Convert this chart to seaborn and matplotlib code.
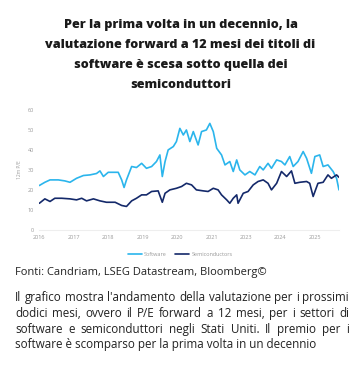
import numpy as np
import pandas as pd
import matplotlib
matplotlib.use("Agg")
import matplotlib.pyplot as plt
import seaborn as sns

# positions along the time axis (one unit per labelled tick, first tick = 2016)
sw_x = [0, 0.16, 0.31, 0.55, 0.74, 0.89, 1.08, 1.28, 1.47, 1.66, 1.76, 1.86, 2.00, 2.15,
        2.29, 2.39, 2.46, 2.53, 2.68, 2.82, 2.97, 3.11, 3.26, 3.40, 3.50, 3.57, 3.65, 3.74,
        3.89, 3.98, 4.08, 4.18, 4.27, 4.37, 4.47, 4.61, 4.71, 4.85, 4.95, 5.05, 5.15, 5.29,
        5.39, 5.53, 5.63, 5.73, 5.82, 5.97, 6.11, 6.26, 6.40, 6.50, 6.64, 6.74, 6.89, 7.03,
        7.13, 7.27, 7.37, 7.51, 7.66, 7.76, 7.90, 8.00, 8.14, 8.24, 8.38, 8.53, 8.63, 8.70]
software = [22.2, 23.8, 25.0, 25.0, 24.5, 23.8, 25.8, 27.2, 27.5, 28.2, 29.5, 26.7, 28.8, 28.8,
            28.8, 25.0, 21.2, 25.0, 31.7, 31.2, 33.3, 30.8, 31.7, 34.2, 37.5, 26.7, 34.2, 40.0,
            41.7, 44.2, 50.8, 47.5, 50.0, 44.2, 49.2, 42.5, 49.2, 50.0, 53.3, 49.2, 40.8, 37.5,
            32.5, 34.2, 29.2, 35.0, 30.0, 27.5, 29.2, 27.5, 31.7, 30.0, 33.3, 30.8, 35.0, 34.2,
            32.5, 36.7, 31.7, 34.2, 39.2, 35.8, 28.3, 36.7, 37.5, 31.7, 32.5, 29.2, 25.8, 20.0]

semi_x = [0, 0.16, 0.31, 0.45, 0.65, 0.89, 1.08, 1.23, 1.37, 1.57, 1.76, 1.95, 2.20, 2.39,
          2.53, 2.68, 2.82, 2.97, 3.11, 3.26, 3.45, 3.57, 3.65, 3.79, 3.98, 4.13, 4.27, 4.42,
          4.56, 4.76, 4.90, 5.05, 5.19, 5.29, 5.44, 5.53, 5.63, 5.73, 5.77, 5.92, 6.06, 6.21,
          6.35, 6.50, 6.64, 6.74, 6.89, 7.03, 7.18, 7.32, 7.42, 7.56, 7.76, 7.85, 7.95, 8.09,
          8.24, 8.38, 8.48, 8.63, 8.70]
semis = [13.3, 15.5, 14.2, 15.8, 15.8, 15.5, 15.0, 15.8, 14.5, 15.5, 14.5, 13.8, 13.8, 12.2,
         11.7, 14.5, 15.8, 17.5, 17.5, 19.2, 19.5, 13.8, 18.3, 20.0, 20.8, 21.7, 23.3, 22.5,
         20.0, 19.5, 19.2, 20.8, 20.0, 17.5, 15.0, 13.3, 15.8, 17.5, 13.3, 18.3, 19.2, 22.5,
         24.2, 25.0, 23.3, 20.0, 23.3, 29.2, 26.7, 29.5, 23.3, 23.8, 24.2, 23.3, 16.7, 23.3,
         23.8, 27.5, 25.8, 27.5, 26.3]

tick_labels = ["2016", "2017", "2018", "2019", "2020", "2021", "2023", "2024", "2025"]
y_ticks = [0, 10, 20, 30, 40, 50, 60]

title = ("Per la prima volta in un decennio, la\n"
         "valutazione forward a 12 mesi dei titoli di\n"
         "software è scesa sotto quella dei\n"
         "semiconduttori")
source = "Fonti: Candriam, LSEG Datastream, Bloomberg©"
body_lines = [
    "Il grafico mostra l'andamento della valutazione per i prossimi",
    "dodici mesi, ovvero il P/E forward a 12 mesi, per i settori di",
    "software e semiconduttori negli Stati Uniti. Il premio per i",
    "software è scomparso per la prima volta in un decennio",
]

sw_color = "#2bb5ec"
semi_color = "#14296a"
grey = "#9a9a9a"
text_color = "#222222"
body_size = 8.4

sns.set_style("white")
plt.rcParams["font.family"] = ["Open Sans", "DejaVu Sans"]

fig = plt.figure(figsize=(3.61, 3.78), dpi=100)
ax = fig.add_axes([0.109, 0.392, 0.830, 0.317])

df_sw = pd.DataFrame({"x": sw_x, "y": software})
df_semi = pd.DataFrame({"x": semi_x, "y": semis})
sns.lineplot(data=df_sw, x="x", y="y", ax=ax, color=sw_color, linewidth=1.2, label="Software")
sns.lineplot(data=df_semi, x="x", y="y", ax=ax, color=semi_color, linewidth=1.2,
             label="Semiconductors")

ax.set_xlim(0, 8.70)
ax.set_ylim(0, 60)
ax.set_xticks(range(len(tick_labels)))
ax.set_xticklabels(tick_labels)
ax.set_yticks(y_ticks)
ax.tick_params(axis="both", labelsize=4, colors=grey, length=0, pad=4)
ax.set_xlabel("")
ax.set_ylabel("12m P/E", fontsize=3.5, color=grey, labelpad=4)
for s in ["top", "right", "left"]:
    ax.spines[s].set_visible(False)
ax.spines["bottom"].set_color("#eeeeee")
ax.spines["bottom"].set_linewidth(0.8)

leg = ax.legend(loc="upper center", bbox_to_anchor=(0.47, -0.14), ncol=2, frameon=False,
                fontsize=4, handlelength=2.5, columnspacing=1.5, handletextpad=0.4)
for t in leg.get_texts():
    t.set_color(grey)

fig.text(0.5, 0.950, title, ha="center", va="top", fontsize=9.1, fontweight=800,
         color="#1a1a1a", linespacing=1.9, multialignment="center")

W = fig.get_figwidth() * fig.dpi
H = fig.get_figheight() * fig.dpi
fig.text(15 / W, 1 - 275 / H, source, ha="left", va="baseline", fontsize=8.0,
         color=text_color)

# justified paragraph
renderer = fig.canvas.get_renderer()
left_px, right_px = 15, 349
line_y = [301, 317, 333, 348]
for i, line in enumerate(body_lines):
    words = line.split(" ")
    yy = 1 - line_y[i] / H
    if i == len(body_lines) - 1:
        fig.text(left_px / W, yy, line, ha="left", va="baseline", fontsize=body_size,
                 color=text_color)
        continue
    texts = [fig.text(0, yy, w, ha="left", va="baseline", fontsize=body_size,
                      color=text_color) for w in words]
    widths = [t.get_window_extent(renderer).width for t in texts]
    gap = (right_px - left_px - sum(widths)) / (len(words) - 1)
    xpos = left_px
    for t, w in zip(texts, widths):
        t.set_x(xpos / W)
        xpos += w + gap

fig.savefig("out.png", dpi=100)
